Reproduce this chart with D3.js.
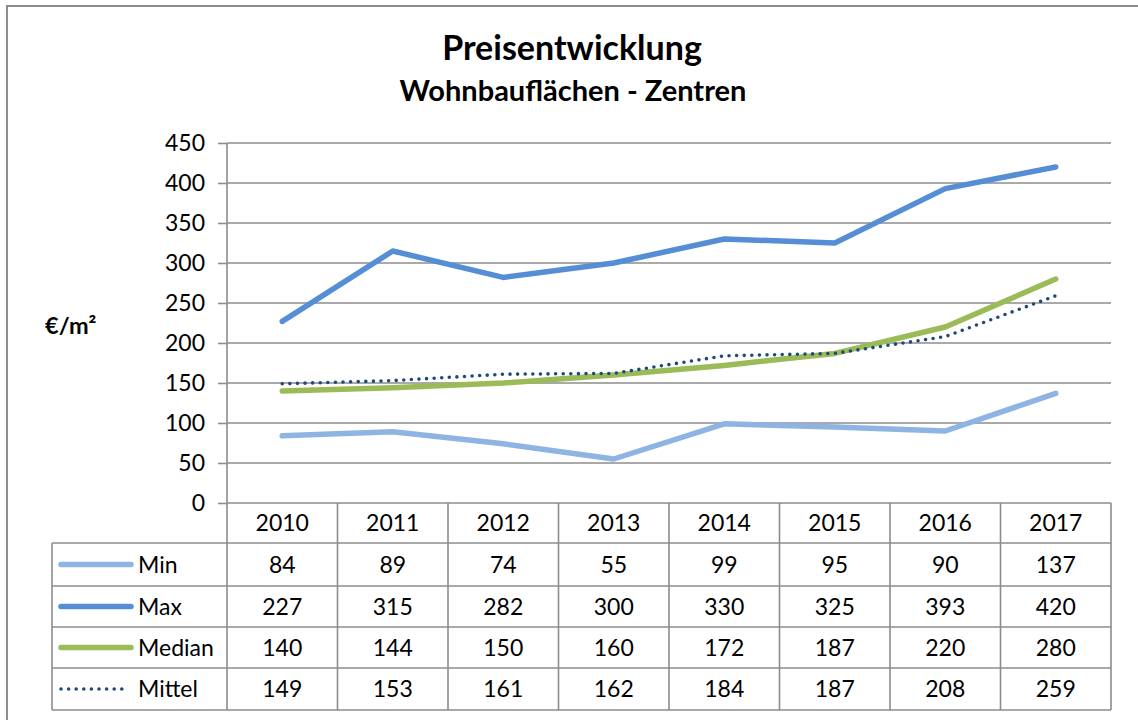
<!DOCTYPE html>
<html>
<head>
<meta charset="utf-8">
<script src="https://cdn.jsdelivr.net/npm/d3@7"></script>
<style>
  body { margin: 0; background: #fff; }
  svg text { font-family: Lato, "Open Sans", sans-serif; fill: #000; }
  .grid line { stroke: #8c8c8c; stroke-width: 1.6px; }
  .tbl line { stroke: #8c8c8c; stroke-width: 1.6px; }
</style>
</head>
<body>
<svg id="chart"></svg>
<script>
const years = ['2010', '2011', '2012', '2013', '2014', '2015', '2016', '2017'];
const minVals = [84, 89, 74, 55, 99, 95, 90, 137];
const maxVals = [227, 315, 282, 300, 330, 325, 393, 420];
const medianVals = [140, 144, 150, 160, 172, 187, 220, 280];
const mittelVals = [149, 153, 161, 162, 184, 187, 208, 259];
const yTicks = [0, 50, 100, 150, 200, 250, 300, 350, 400, 450];

const series = [
    { name: 'Min', values: minVals, color: '#8db4e2', dash: null },
    { name: 'Max', values: maxVals, color: '#558ed5', dash: null },
    { name: 'Median', values: medianVals, color: '#9bbb59', dash: null },
    { name: 'Mittel', values: mittelVals, color: '#1f497d', dash: 'dot' }
];

const width = 1138, height = 720;
const plotLeft = 227, plotRight = 1111, plotTop = 143, plotBottom = 503;
const rowEdges = [503, 543, 586, 627, 668, 710];
const legendLeft = 52;
const bodySize = '23px';

const svg = d3.select('#chart')
    .attr('width', width)
    .attr('height', height);

// outer frame (runs off the right and bottom edges)
svg.append('rect')
    .attr('x', 7).attr('y', 6)
    .attr('width', 1140).attr('height', 730)
    .attr('fill', 'none')
    .attr('stroke', '#8c8c8c')
    .attr('stroke-width', 2);

// titles
svg.append('text')
    .attr('x', 572).attr('y', 60)
    .attr('text-anchor', 'middle')
    .style('font-weight', 'bold').style('font-size', '34px')
    .text('Preisentwicklung');
svg.append('text')
    .attr('x', 573).attr('y', 101)
    .attr('text-anchor', 'middle')
    .style('font-weight', 'bold').style('font-size', '29px')
    .text('Wohnbauflächen - Zentren');

svg.append('text')
    .attr('x', 45).attr('y', 334)
    .style('font-weight', 'bold').style('font-size', '23.5px')
    .text('€/m²');

const x = d3.scaleBand()
    .domain(years)
    .range([plotLeft, plotRight]);

const y = d3.scaleLinear()
    .domain([0, 450])
    .range([plotBottom, plotTop]);

// gridlines
const grid = svg.append('g').classed('grid', true);
grid.selectAll('line')
    .data(yTicks.filter(d => d > 0))
    .join('line')
        .attr('x1', plotLeft).attr('x2', plotRight)
        .attr('y1', d => y(d)).attr('y2', d => y(d));

// y axis
const yAxis = svg.append('g')
    .attr('transform', `translate(${plotLeft},0)`)
    .call(d3.axisLeft(y).tickValues(yTicks).tickSize(9).tickPadding(13));
yAxis.select('.domain').remove();
yAxis.selectAll('line').attr('stroke', '#8c8c8c').attr('stroke-width', 1.6);
yAxis.selectAll('text').style('font-size', bodySize).attr('fill', '#000');

// data table
const tbl = svg.append('g').classed('tbl', true);
tbl.append('line')
    .attr('x1', plotLeft).attr('x2', plotRight)
    .attr('y1', plotBottom).attr('y2', plotBottom);
tbl.append('line')
    .attr('x1', plotLeft).attr('x2', plotLeft)
    .attr('y1', plotTop).attr('y2', rowEdges[5]);
for (let i = 1; i < rowEdges.length; i++) {
    tbl.append('line')
        .attr('x1', legendLeft).attr('x2', plotRight)
        .attr('y1', rowEdges[i]).attr('y2', rowEdges[i]);
}
tbl.append('line')
    .attr('x1', legendLeft).attr('x2', legendLeft)
    .attr('y1', rowEdges[1]).attr('y2', rowEdges[5]);
years.forEach(yr => {
    const xr = x(yr) + x.bandwidth();
    tbl.append('line')
        .attr('x1', xr).attr('x2', xr)
        .attr('y1', plotBottom).attr('y2', rowEdges[5]);
});

// year header
svg.append('g').selectAll('text')
    .data(years)
    .join('text')
        .attr('x', d => x(d) + x.bandwidth() / 2)
        .attr('y', (rowEdges[0] + rowEdges[1]) / 2)
        .attr('dy', '0.35em')
        .attr('text-anchor', 'middle')
        .style('font-size', bodySize)
        .text(d => d);

// rows
series.forEach((s, i) => {
    const cy = (rowEdges[i + 1] + rowEdges[i + 2]) / 2;
    const row = svg.append('g');
    const leg = row.append('line')
        .attr('x1', 61).attr('x2', 131)
        .attr('y1', cy).attr('y2', cy)
        .attr('stroke', s.color)
        .attr('stroke-linecap', 'round');
    if (s.dash) {
        leg.attr('stroke-width', 3.6).attr('stroke-dasharray', '0 7.6').attr('x2', 129);
    } else {
        leg.attr('stroke-width', 5.5);
    }
    row.append('text')
        .attr('x', 138).attr('y', cy).attr('dy', '0.35em')
        .style('font-size', bodySize)
        .text(s.name);
    row.selectAll('text.val')
        .data(s.values)
        .join('text')
            .classed('val', true)
            .attr('x', (d, j) => x(years[j]) + x.bandwidth() / 2)
            .attr('y', cy).attr('dy', '0.35em')
            .attr('text-anchor', 'middle')
            .style('font-size', bodySize)
            .text(d => d);
});

// lines
const line = d3.line()
    .x((d, j) => x(years[j]) + x.bandwidth() / 2)
    .y(d => y(d));

svg.append('g').selectAll('path')
    .data(series)
    .join('path')
        .attr('d', d => line(d.values))
        .attr('fill', 'none')
        .attr('stroke', d => d.color)
        .attr('stroke-width', d => d.dash ? 3.6 : 5.5)
        .attr('stroke-linecap', 'round')
        .attr('stroke-linejoin', 'round')
        .attr('stroke-dasharray', d => d.dash ? '0 7.6' : null);
</script>
</body>
</html>
